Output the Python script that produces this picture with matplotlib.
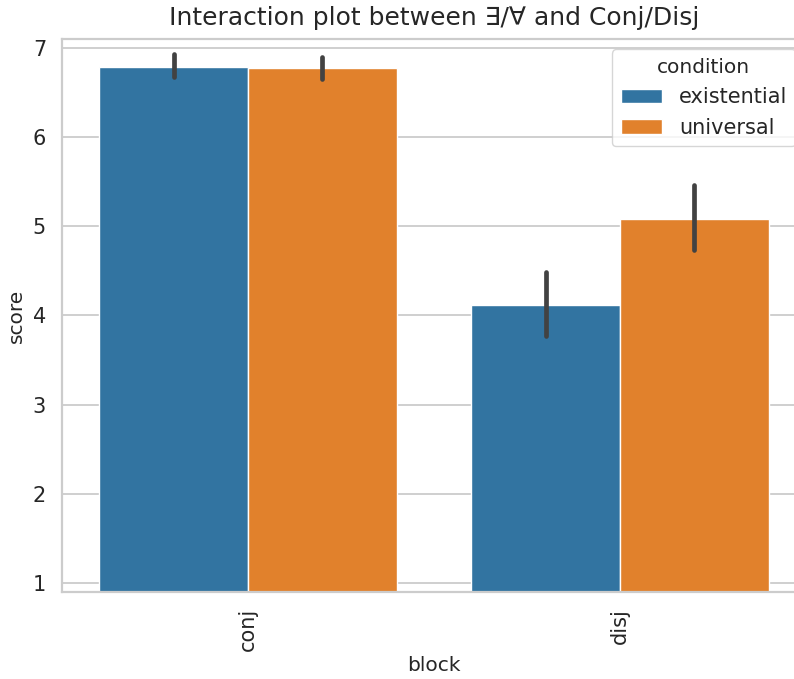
import matplotlib.pyplot as plt
import numpy as np

# data
blocks = ["conj", "disj"]
conditions = ["existential", "universal"]
mean_existential = [6.79, 4.12]
mean_universal = [6.77, 5.08]
ci_existential = [(6.67, 6.93), (3.77, 4.49)]
ci_universal = [(6.65, 6.90), (4.73, 5.46)]

colors = ["#3274a1", "#e1812c"]
text_color = "#262626"
grid_color = "#cccccc"

plt.rcParams["font.family"] = ["DejaVu Sans"]
plt.rcParams["text.color"] = text_color
plt.rcParams["axes.labelcolor"] = text_color
plt.rcParams["xtick.color"] = text_color
plt.rcParams["ytick.color"] = text_color

fig = plt.figure(figsize=(7.94, 6.79), dpi=100)
ax = fig.add_axes([0.0781, 0.1281, 0.937, 0.8145])

x = np.arange(len(blocks))
width = 0.4
series = [
    (mean_existential, ci_existential),
    (mean_universal, ci_universal),
]
for i, (means, cis) in enumerate(series):
    pos = x - width / 2 + i * width
    ax.bar(pos, means, width=width, color=colors[i], edgecolor="white",
           linewidth=1.0, label=conditions[i], zorder=2)
    for p, (lo, hi) in zip(pos, cis):
        ax.plot([p, p], [lo, hi], color="#424242", lw=3.4,
                solid_capstyle="round", zorder=3)

ax.set_xlim(-0.5, 1.5)
ax.set_ylim(0.9, 7.1)
ax.set_xticks(x)
ax.set_xticklabels(blocks, rotation=90)
ax.set_yticks([1, 2, 3, 4, 5, 6, 7])
ax.tick_params(length=0, pad=11.5, labelsize=15)

ax.grid(axis="y", color=grid_color, lw=1.3, zorder=0)
ax.grid(axis="x", visible=False)
ax.set_axisbelow(True)
for s in ax.spines.values():
    s.set_color(grid_color)
    s.set_linewidth(1.6)

ax.set_xlabel("block", fontsize=14.5, labelpad=3.5)
ax.set_ylabel("score", fontsize=14.5, labelpad=4.5)
ax.set_title("Interaction plot between \u2203/\u2200 and Conj/Disj",
             fontsize=18, pad=10)

leg = ax.legend(title="condition", loc="upper right", fontsize=15,
                title_fontsize=14.5, frameon=True, fancybox=True)
leg.get_frame().set_edgecolor(grid_color)

fig.savefig("out.png", dpi=100)
